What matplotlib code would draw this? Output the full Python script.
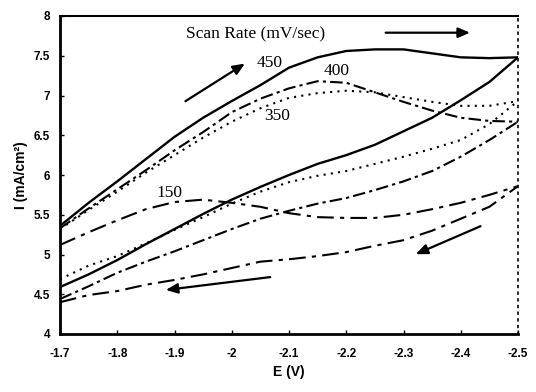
import matplotlib
matplotlib.use("Agg")
import matplotlib.pyplot as plt
from matplotlib.ticker import FixedLocator, FixedFormatter

# ---- data ----
E = [-1.70, -1.75, -1.80, -1.85, -1.90, -1.95, -2.00, -2.05, -2.10,
     -2.15, -2.20, -2.25, -2.30, -2.35, -2.40, -2.45, -2.50]

i450_fwd = [5.36, 5.65, 5.92, 6.20, 6.48, 6.72, 6.93, 7.13, 7.35,
            7.48, 7.56, 7.58, 7.58, 7.53, 7.48, 7.47, 7.48]
i450_rev = [4.59, 4.75, 4.93, 5.13, 5.32, 5.51, 5.69, 5.85, 6.00,
            6.14, 6.25, 6.38, 6.55, 6.72, 6.94, 7.17, 7.48]

i400_fwd = [5.33, 5.58, 5.82, 6.06, 6.31, 6.54, 6.79, 6.96, 7.09,
            7.18, 7.16, 7.04, 6.92, 6.81, 6.72, 6.68, 6.67]
i400_rev = [4.44, 4.60, 4.77, 4.91, 5.04, 5.18, 5.32, 5.45, 5.55,
            5.64, 5.71, 5.81, 5.92, 6.05, 6.23, 6.44, 6.67]

i350_fwd = [5.32, 5.56, 5.79, 6.03, 6.25, 6.47, 6.67, 6.84, 6.97,
            7.03, 7.06, 7.04, 6.98, 6.92, 6.87, 6.87, 6.93]
i350_rev = [4.69, 4.86, 4.98, 5.14, 5.31, 5.47, 5.64, 5.79, 5.91,
            5.99, 6.05, 6.14, 6.23, 6.33, 6.44, 6.64, 6.93]

i150_fwd = [5.12, 5.28, 5.43, 5.57, 5.66, 5.69, 5.65, 5.60, 5.52,
            5.47, 5.46, 5.46, 5.50, 5.57, 5.65, 5.75, 5.86]
i150_rev = [4.40, 4.49, 4.54, 4.62, 4.68, 4.75, 4.83, 4.91, 4.94,
            4.98, 5.03, 5.11, 5.18, 5.30, 5.45, 5.60, 5.86]

rate_labels = ["450", "400", "350", "150"]

x_ticks = [-1.7, -1.8, -1.9, -2.0, -2.1, -2.2, -2.3, -2.4, -2.5]
x_tick_labels = ["-1.7", "-1.8", "-1.9", "-2", "-2.1", "-2.2", "-2.3", "-2.4", "-2.5"]
y_ticks = [4, 4.5, 5, 5.5, 6, 6.5, 7, 7.5, 8]
y_tick_labels = ["4", "4.5", "5", "5.5", "6", "6.5", "7", "7.5", "8"]

# ---- figure ----
fig = plt.figure(figsize=(5.36, 3.92), dpi=100)
ax = fig.add_axes([60 / 536, 58 / 392, 458 / 536, 318 / 392])

styles = {
    "450": dict(ls="-", lw=1.7),
    "400": dict(ls=(0, (6, 2, 1.5, 2)), lw=1.5),
    "350": dict(ls=(0, (1, 2.5)), lw=1.5),
    "150": dict(ls=(0, (8, 3, 2, 3)), lw=1.5),
}
series = {
    "450": (i450_fwd, i450_rev),
    "400": (i400_fwd, i400_rev),
    "350": (i350_fwd, i350_rev),
    "150": (i150_fwd, i150_rev),
}
for key in rate_labels:
    fwd, rev = series[key]
    ax.plot(E, fwd, color="black", **styles[key])
    ax.plot(E, rev, color="black", **styles[key])

ax.set_xlim(-1.7, -2.5)
ax.set_ylim(4, 8)

ax.xaxis.set_major_locator(FixedLocator(x_ticks))
ax.xaxis.set_major_formatter(FixedFormatter(x_tick_labels))
ax.yaxis.set_major_locator(FixedLocator(y_ticks))
ax.yaxis.set_major_formatter(FixedFormatter(y_tick_labels))

for lab in ax.get_xticklabels() + ax.get_yticklabels():
    lab.set_fontfamily("Liberation Sans")
    lab.set_fontweight("bold")
    lab.set_fontsize(8.5)

ax.tick_params(axis="both", direction="in", length=3, width=1, colors="black")
ax.tick_params(axis="x", pad=10)
ax.tick_params(axis="y", pad=7)

for side in ["left", "bottom"]:
    ax.spines[side].set_linewidth(2)
ax.spines["top"].set_linewidth(1.5)
ax.spines["right"].set_linewidth(1.2)
ax.spines["right"].set_linestyle((0, (1, 3)))

ax.set_xlabel("E (V)", fontfamily="Liberation Sans", fontweight="bold", fontsize=10, labelpad=4)
ax.set_ylabel("I (mA/cm²)", fontfamily="Liberation Sans", fontweight="bold", fontsize=10, labelpad=4)

serif = dict(family="Liberation Serif", size=12.5, ha="center", va="center")
ax.text(-2.041, 7.77, "Scan Rate (mV/sec)", **serif)
ax.text(-2.067, 7.41, rate_labels[0], **serif)
ax.text(-2.184, 7.31, rate_labels[1], **serif)
ax.text(-2.079, 6.74, rate_labels[2], **serif)
ax.text(-1.892, 5.77, rate_labels[3], **serif)

arrow = dict(arrowstyle="-|>,head_length=0.7,head_width=0.3", color="black", lw=1.6)
ax.annotate("", xy=(-2.027, 7.42), xytext=(-1.915, 6.91), arrowprops=arrow)
ax.annotate("", xy=(-2.421, 7.79), xytext=(-2.264, 7.79), arrowprops=arrow)
ax.annotate("", xy=(-2.317, 4.99), xytext=(-2.439, 5.37), arrowprops=arrow)
ax.annotate("", xy=(-1.88, 4.55), xytext=(-2.072, 4.72), arrowprops=arrow)

fig.savefig("out.png", dpi=100)
